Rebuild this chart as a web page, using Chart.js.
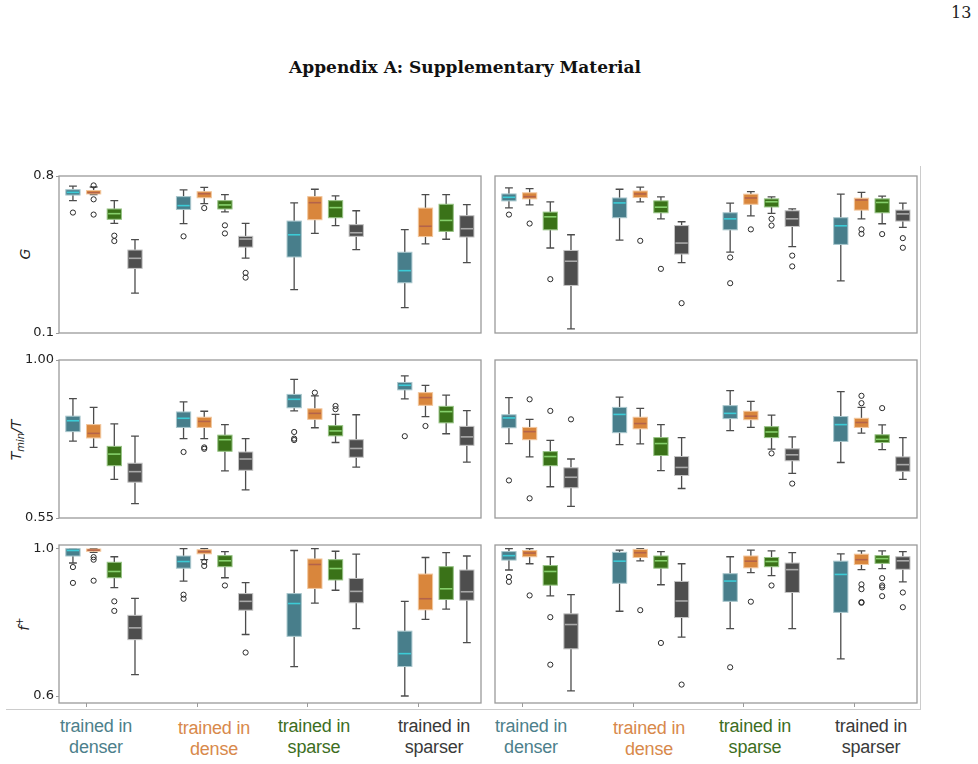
<!DOCTYPE html>
<html>
<head>
<meta charset="utf-8">
<script src="https://cdn.jsdelivr.net/npm/chart.js@4.4.1/dist/chart.umd.min.js"></script>
<style>
  body { margin: 0; background: #fff; }
  #page { position: relative; width: 978px; height: 764px; overflow: hidden; background: #fff; }
  canvas { position: absolute; }
  .pageno { position: absolute; left: 951px; top: 3px; font: 16px "DejaVu Serif", serif; color: #222; }
  .title { position: absolute; left: 0; width: 930px; top: 57px; text-align: center; font: bold 17px "DejaVu Serif", serif; color: #111; }
  .ylab { position: absolute; transform: translate(-50%, -50%) rotate(-90deg); font: italic 14px "DejaVu Sans", sans-serif; color: #222; white-space: nowrap; }
  .ylab sub { font-size: 10px; }
  .cat { position: absolute; width: 130px; margin-left: -65px; text-align: center; font: 18px "Liberation Sans", Arial, sans-serif; line-height: 21px; letter-spacing: -0.2px; }
  .vline { position: absolute; left: 920px; top: 166px; width: 1px; height: 544px; background: #ccc; }
  .hline { position: absolute; left: 6px; top: 709px; width: 915px; height: 1px; background: #ccc; }
</style>
</head>
<body>
<div id="page">
  <div class="pageno">13</div>
  <div class="title">Appendix A: Supplementary Material</div>
  <div class="vline"></div>
  <div class="hline"></div>
  <div class="ylab" style="left:25px; top:254px;">G</div>
  <div class="ylab" style="left:17px; top:440px;">T<sub>min</sub>/T</div>
  <div class="ylab" style="left:23px; top:624px;">f<sup style="font-size:10px">+</sup></div>
  <div id="cats"></div>
</div>
<script>
// categories (one per x position), hue order inside a group is the same list
const categories = ["trained in denser", "trained in dense", "trained in sparse", "trained in sparser"];

// tick labels on the y axes
const gTicks = [0.1, 0.8];
const tTicks = [0.55, 1.00];
const fTicks = [0.6, 1.0];

// box stats: [lower whisker, q1, median, q3, upper whisker], 4 hues per group
const gLeftStats = [
  [0.690, 0.715, 0.727, 0.739, 0.755], [0.717, 0.720, 0.726, 0.735, 0.751], [0.589, 0.607, 0.632, 0.653, 0.690], [0.278, 0.388, 0.433, 0.470, 0.516],
  [0.588, 0.651, 0.668, 0.708, 0.738], [0.677, 0.703, 0.721, 0.730, 0.749], [0.640, 0.653, 0.671, 0.690, 0.717], [0.434, 0.483, 0.519, 0.531, 0.589],
  [0.293, 0.439, 0.538, 0.599, 0.680], [0.544, 0.605, 0.681, 0.708, 0.741], [0.579, 0.614, 0.659, 0.690, 0.711], [0.472, 0.531, 0.547, 0.583, 0.645],
  [0.213, 0.324, 0.378, 0.460, 0.561], [0.497, 0.530, 0.576, 0.657, 0.717], [0.518, 0.553, 0.602, 0.674, 0.717], [0.414, 0.528, 0.565, 0.623, 0.672]
];
const gLeftOut = [[0.637], [0.758, 0.696, 0.628], [0.534, 0.510], [], [0.531], [0.657], [0.580, 0.544], [0.368, 0.347], [], [], [], [], [], [], [], []];

const gRightStats = [
  [0.658, 0.689, 0.705, 0.720, 0.747], [0.671, 0.698, 0.708, 0.725, 0.744], [0.479, 0.560, 0.618, 0.639, 0.685], [0.118, 0.312, 0.420, 0.468, 0.538],
  [0.514, 0.614, 0.680, 0.702, 0.741], [0.685, 0.704, 0.720, 0.733, 0.750], [0.609, 0.636, 0.661, 0.689, 0.707], [0.414, 0.452, 0.501, 0.579, 0.596],
  [0.461, 0.560, 0.609, 0.636, 0.679], [0.622, 0.674, 0.702, 0.719, 0.730], [0.633, 0.662, 0.685, 0.698, 0.707], [0.485, 0.575, 0.609, 0.645, 0.653],
  [0.332, 0.495, 0.578, 0.614, 0.719], [0.609, 0.648, 0.693, 0.701, 0.727], [0.587, 0.636, 0.682, 0.698, 0.710], [0.571, 0.599, 0.631, 0.648, 0.679]
];
const gRightOut = [[0.628], [0.588], [0.340], [], [], [0.511], [0.386], [0.233], [0.437, 0.322], [0.562], [0.609, 0.579], [0.445, 0.397], [], [0.562, 0.542], [0.541], [0.523, 0.480]];

const tLeftStats = [
  [0.769, 0.796, 0.827, 0.840, 0.890], [0.751, 0.778, 0.791, 0.816, 0.865], [0.660, 0.699, 0.732, 0.754, 0.818], [0.591, 0.652, 0.682, 0.706, 0.783],
  [0.776, 0.808, 0.834, 0.852, 0.881], [0.776, 0.808, 0.825, 0.837, 0.854], [0.684, 0.740, 0.773, 0.786, 0.816], [0.630, 0.686, 0.718, 0.738, 0.776],
  [0.855, 0.864, 0.888, 0.902, 0.945], [0.807, 0.831, 0.848, 0.861, 0.898], [0.765, 0.784, 0.798, 0.813, 0.845], [0.695, 0.723, 0.748, 0.773, 0.844],
  [0.889, 0.915, 0.928, 0.936, 0.955], [0.839, 0.871, 0.893, 0.907, 0.928], [0.790, 0.821, 0.853, 0.868, 0.900], [0.709, 0.757, 0.781, 0.811, 0.856]
];
const tLeftOut = [[], [], [], [], [0.738], [0.751, 0.747], [], [], [0.795, 0.776, 0.772], [0.907], [0.869, 0.860], [], [0.783], [0.812], [], []];

const tRightStats = [
  [0.762, 0.807, 0.835, 0.844, 0.893], [0.724, 0.773, 0.796, 0.808, 0.831], [0.639, 0.699, 0.725, 0.739, 0.771], [0.583, 0.636, 0.666, 0.693, 0.718],
  [0.759, 0.793, 0.845, 0.865, 0.894], [0.761, 0.804, 0.819, 0.837, 0.862], [0.685, 0.728, 0.762, 0.779, 0.816], [0.634, 0.671, 0.694, 0.725, 0.779],
  [0.799, 0.833, 0.848, 0.870, 0.913], [0.808, 0.830, 0.840, 0.854, 0.882], [0.746, 0.779, 0.795, 0.810, 0.843], [0.677, 0.713, 0.730, 0.747, 0.781],
  [0.708, 0.768, 0.816, 0.839, 0.910], [0.792, 0.808, 0.822, 0.834, 0.865], [0.745, 0.765, 0.774, 0.787, 0.815], [0.660, 0.683, 0.702, 0.724, 0.779]
];
const tRightOut = [[0.657], [0.888, 0.606], [0.855], [0.831], [], [], [], [], [], [], [0.734], [0.648], [], [0.898, 0.877], [0.863], []];

const fLeftStats = [
  [0.961, 0.980, 0.995, 1.000, 1.000], [0.990, 0.993, 0.996, 0.999, 1.000], [0.894, 0.921, 0.938, 0.963, 0.978], [0.658, 0.753, 0.785, 0.819, 0.865],
  [0.912, 0.947, 0.965, 0.980, 1.000], [0.970, 0.986, 0.992, 0.997, 1.000], [0.921, 0.951, 0.967, 0.981, 0.992], [0.767, 0.833, 0.857, 0.878, 0.908],
  [0.680, 0.762, 0.851, 0.878, 0.995], [0.852, 0.892, 0.957, 0.972, 1.000], [0.887, 0.915, 0.946, 0.970, 0.993], [0.783, 0.853, 0.884, 0.919, 0.985],
  [0.600, 0.680, 0.715, 0.776, 0.857], [0.808, 0.834, 0.864, 0.931, 0.976], [0.836, 0.862, 0.891, 0.951, 0.989], [0.745, 0.860, 0.883, 0.942, 0.980]
];
const fLeftOut = [[0.950, 0.907], [0.977, 0.970, 0.913], [0.857, 0.831], [], [0.875, 0.864], [0.964, 0.953], [0.900], [0.718], [], [], [], [], [], [], [], []];

const fRightStats = [
  [0.942, 0.969, 0.981, 0.992, 1.000], [0.959, 0.978, 0.988, 0.995, 1.000], [0.872, 0.901, 0.938, 0.954, 0.978], [0.614, 0.728, 0.794, 0.823, 0.875],
  [0.830, 0.906, 0.966, 0.990, 0.996], [0.967, 0.976, 0.989, 0.998, 1.000], [0.902, 0.947, 0.967, 0.980, 0.992], [0.760, 0.813, 0.858, 0.911, 0.959],
  [0.783, 0.857, 0.912, 0.932, 0.978], [0.935, 0.948, 0.966, 0.980, 0.996], [0.927, 0.951, 0.965, 0.976, 0.994], [0.783, 0.881, 0.943, 0.961, 0.989],
  [0.701, 0.827, 0.930, 0.966, 0.986], [0.943, 0.957, 0.970, 0.985, 0.994], [0.946, 0.960, 0.973, 0.981, 0.994], [0.910, 0.944, 0.967, 0.978, 0.992]
];
const fRightOut = [[0.923, 0.910], [0.873], [0.814, 0.685], [], [], [0.833], [0.744], [0.631], [0.678], [0.856], [0.900], [], [], [0.903, 0.890, 0.855, 0.853], [0.920, 0.900, 0.895, 0.871], [0.881, 0.841]];

// styling
const fills = ["#487e8b", "#d9863c", "#3a7218", "#4e4e4e"];
const edges = ["#a9c7cd", "#f2c79e", "#98c486", "#c4c4c4"];
const medians = ["#3ccbd6", "#b4634a", "#86d06c", "#a9a9a9"];
const labelColors = ["#4d7f8b", "#d8894b", "#3d6e1e", "#3a3a3a"];
const FRAME = "#9a9a9a";

// x placement inside a group (axis units, tick i sits at value i)
const X_MIN = -0.25, X_MAX = 3.565;
const HUE_OFF = -0.124, HUE_STEP = 0.187, HALF_W = 0.0645;
const xPos = (i) => Math.floor(i / 4) + HUE_OFF + HUE_STEP * (i % 4);

function boxPlugin(stats) {
  return {
    id: "boxes",
    beforeDatasetsDraw(chart) {
      const { ctx, chartArea, scales: { x, y } } = chart;
      ctx.save();
      ctx.beginPath();
      ctx.rect(chartArea.left, chartArea.top, chartArea.right - chartArea.left, chartArea.bottom - chartArea.top);
      ctx.clip();
      const hw = x.getPixelForValue(HALF_W) - x.getPixelForValue(0);
      stats.forEach((s, i) => {
        const k = i % 4;
        const cx = x.getPixelForValue(xPos(i));
        const [lo, q1, md, q3, hi] = s.map(v => y.getPixelForValue(v));
        // whiskers and caps
        ctx.strokeStyle = "rgba(45,45,45,0.85)";
        ctx.lineWidth = 1.3;
        ctx.beginPath();
        ctx.moveTo(cx, hi); ctx.lineTo(cx, q3);
        ctx.moveTo(cx, q1); ctx.lineTo(cx, lo);
        ctx.moveTo(cx - hw * 0.55, hi); ctx.lineTo(cx + hw * 0.55, hi);
        ctx.moveTo(cx - hw * 0.55, lo); ctx.lineTo(cx + hw * 0.55, lo);
        ctx.stroke();
        // box
        ctx.fillStyle = fills[k];
        ctx.fillRect(cx - hw, q3, hw * 2, q1 - q3);
        ctx.strokeStyle = edges[k];
        ctx.lineWidth = 1;
        ctx.strokeRect(cx - hw, q3, hw * 2, Math.max(q1 - q3, 1));
        // median
        ctx.strokeStyle = medians[k];
        ctx.lineWidth = 1.6;
        ctx.beginPath();
        ctx.moveTo(cx - hw + 1, md); ctx.lineTo(cx + hw - 1, md);
        ctx.stroke();
      });
      ctx.restore();
    },
    afterDraw(chart) {
      const { ctx, chartArea: a } = chart;
      ctx.save();
      ctx.strokeStyle = FRAME;
      ctx.lineWidth = 1.3;
      ctx.strokeRect(a.left, a.top, a.right - a.left, a.bottom - a.top);
      ctx.restore();
    }
  };
}

function makePanel(opt) {
  const canvas = document.createElement("canvas");
  canvas.width = opt.w;
  canvas.height = opt.h;
  canvas.style.left = opt.left + "px";
  canvas.style.top = opt.top + "px";
  document.getElementById("page").appendChild(canvas);

  const points = [];
  opt.outliers.forEach((list, i) => list.forEach(v => points.push({ x: xPos(i), y: v })));

  new Chart(canvas.getContext("2d"), {
    type: "scatter",
    data: {
      datasets: [{
        data: points,
        pointStyle: "circle",
        pointRadius: 2.6,
        backgroundColor: "rgba(255,255,255,0)",
        borderColor: "#2a2a2a",
        borderWidth: 1
      }]
    },
    options: {
      responsive: false,
      animation: false,
      devicePixelRatio: 1,
      events: [],
      layout: { autoPadding: false, padding: opt.padding },
      plugins: { legend: { display: false }, tooltip: { enabled: false } },
      scales: {
        x: {
          type: "linear",
          min: X_MIN,
          max: X_MAX,
          display: opt.xTicks,
          afterBuildTicks: s => { s.ticks = categories.map((c, i) => ({ value: i })); },
          afterFit: s => { s.height = opt.xTicks ? 6 : 0; },
          grid: { drawOnChartArea: false, tickLength: 4, color: FRAME },
          border: { display: false },
          ticks: { display: false }
        },
        y: {
          type: "linear",
          min: opt.yMin,
          max: opt.yMax,
          display: opt.yTicks,
          afterBuildTicks: s => { s.ticks = opt.ticks.map(v => ({ value: v })); },
          afterFit: s => { s.width = opt.yTicks ? 59 : 0; },
          grid: { drawOnChartArea: false, tickLength: 3, color: FRAME },
          border: { display: false },
          ticks: {
            padding: 2,
            color: "#222",
            font: { family: "DejaVu Sans", size: 13 },
            callback: v => v.toFixed(opt.dec)
          }
        }
      }
    },
    plugins: [boxPlugin(opt.stats)]
  });
}

const rows = [
  { top: 176, bottom: 333, yMin: 0.1, yMax: 0.8, ticks: gTicks, dec: 1, left: gLeftStats, leftOut: gLeftOut, right: gRightStats, rightOut: gRightOut, last: false },
  { top: 360, bottom: 518, yMin: 0.55, yMax: 1.0, ticks: tTicks, dec: 2, left: tLeftStats, leftOut: tLeftOut, right: tRightStats, rightOut: tRightOut, last: false },
  { top: 545, bottom: 703, yMin: 0.581, yMax: 1.0099, ticks: fTicks, dec: 1, left: fLeftStats, leftOut: fLeftOut, right: fRightStats, rightOut: fRightOut, last: true }
];

rows.forEach(r => {
  const h = r.bottom - r.top + 20;
  const bottomPad = r.last ? 4 : 10;
  makePanel({
    left: 0, top: r.top - 10, w: 490, h: h,
    padding: { left: 0, right: 9, top: 10, bottom: bottomPad },
    yMin: r.yMin, yMax: r.yMax, ticks: r.ticks, dec: r.dec,
    yTicks: true, xTicks: r.last, stats: r.left, outliers: r.leftOut
  });
  makePanel({
    left: 490, top: r.top - 10, w: 435, h: h,
    padding: { left: 5, right: 8, top: 10, bottom: bottomPad },
    yMin: r.yMin, yMax: r.yMax, ticks: r.ticks, dec: r.dec,
    yTicks: false, xTicks: r.last, stats: r.right, outliers: r.rightOut
  });
});

// category labels under both bottom panels
const catX = [[96, 214, 314, 434], [531, 649, 755, 871]];
const catDy = [0, 2, 0, 0];
const cats = document.getElementById("cats");
catX.forEach(xs => xs.forEach((x, k) => {
  const d = document.createElement("div");
  d.className = "cat";
  d.style.left = x + "px";
  d.style.top = (716 + catDy[k]) + "px";
  d.style.color = labelColors[k];
  const words = categories[k].split(" ");
  d.innerHTML = words.slice(0, 2).join(" ") + "<br>" + words[2];
  cats.appendChild(d);
}));
</script>
</body>
</html>
